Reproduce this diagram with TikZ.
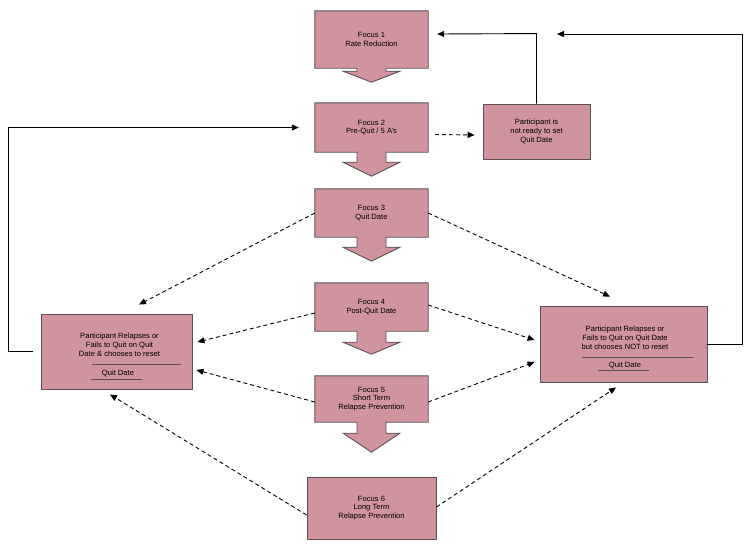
\documentclass[tikz,border=0pt]{standalone}
\usepackage{fontspec}
\setmainfont{Liberation Sans}
\usetikzlibrary{arrows.meta,backgrounds}
\definecolor{focuspink}{HTML}{D0949F}
\definecolor{edgegrey}{HTML}{5A5054}

% box with a broad arrow hanging below it: node, stem, head
\newcommand{\focusdrop}[3]{%
  \filldraw[fill=focuspink, draw=edgegrey, line width=0.9pt]
    (#1.north west) -- (#1.north east) -- (#1.south east)
    -- ([xshift=14.5pt]#1.south) -- ++(0,#2) -- ++(14,0) -- ++(-28.5,#3)
    -- ++(-28.5,-#3) -- ++(14,0) -- ++(0,-#2) -- (#1.south west) -- cycle;}

\begin{document}
\begin{tikzpicture}[x=1pt, y=-1pt,
  font=\fontsize{7.6}{8.8}\selectfont,
  box/.style={fill=focuspink, draw=edgegrey, line width=0.9pt,
              align=center, inner sep=0pt},
  focus/.style={align=center, inner sep=0pt, minimum width=113pt},
  txt/.style={align=center, inner sep=0pt},
  rule/.style={draw=edgegrey, line width=0.7pt},
  ar/.style={-{Triangle[length=7pt,width=6pt]}, line width=0.9pt},
  dar/.style={ar, dash pattern=on 4pt off 3pt}]
\useasboundingbox (0,0) rectangle (753,552);

% the focus steps
\node[focus, minimum height=57pt] (f1) at (371.5,39.5) {Focus 1\\Rate Reduction};
\node[focus, minimum height=49pt] (f2) at (371.5,127.5) {Focus 2\\Pre-Quit / 5 A's};
\node[focus, minimum height=48pt] (f3) at (371.5,213) {Focus 3\\Quit Date};
\node[focus, minimum height=48pt] (f4) at (371.5,307) {Focus 4\\Post-Quit Date};
\node[focus, minimum height=46pt] (f5) at (371.5,399) {Focus 5\\Short Term\\Relapse Prevention};
\node[box, minimum width=129pt, minimum height=62pt] (f6) at (371.5,508)
  {Focus 6\\Long Term\\Relapse Prevention};
\begin{scope}[on background layer]
\focusdrop{f1}{3}{11}
\focusdrop{f2}{10}{14}
\focusdrop{f3}{10}{14}
\focusdrop{f4}{11}{12}
\focusdrop{f5}{11}{19}
\end{scope}

% side boxes
\node[box, minimum width=107pt, minimum height=55pt] (ready) at (536.5,131.5)
  {Participant is\\not ready to set\\Quit Date};
\node[box, minimum width=151pt, minimum height=75pt] (relL) at (116.5,351.5) {};
\node[txt] (relLtxt) at (119.5,344.5)
  {Participant Relapses or\\Fails to Quit on Quit\\Date \& chooses to reset};
\node[txt] (relLdate) at (118,373) {Quit Date};
\draw[rule] (92,364) -- (181,364);
\draw[rule] (91,379) -- (142,379);
\node[box, minimum width=167pt, minimum height=76pt] (relR) at (623.5,344) {};
\node[txt] (relRtxt) at (625,338)
  {Participant Relapses or\\Fails to Quit on Quit Date\\but chooses NOT to reset};
\node[txt] (relRdate) at (625,365) {Quit Date};
\draw[rule] (582,357) -- (693,357);
\draw[rule] (598,370) -- (649,370);
\coordinate (mergeR) at (557,34);

% loops back
\draw[ar] (ready.north) -- ++(0,-70) -- ([xshift=9pt,yshift=5.5pt]f1.east);
\draw[ar] (relR.east) -- ++(35,0) -- ++(0,-310) -- (mergeR);
\draw[ar] ([xshift=-8pt]relL.west) -- ++(-24,0) |- ([xshift=-16pt]f2.west);
\draw[dar] ([xshift=7pt,yshift=-7pt]f2.east) -- ([xshift=-8pt,yshift=-3.5pt]ready.west);

% dashed moves to the side boxes
\draw[dar] (f3.west) -- ([xshift=22.5pt,yshift=9pt]relL.north);
\draw[dar] (f3.east) -- ([xshift=-13.5pt,yshift=9pt]relR.north);
\draw[dar] ([yshift=-6pt]f4.west) -- ([xshift=5pt,yshift=9.5pt]relL.east);
\draw[dar] ([yshift=2pt]f4.east) -- ([xshift=-5pt,yshift=4pt]relR.west);
\draw[dar] ([yshift=-3pt]f5.west) -- ([xshift=4pt,yshift=-18.5pt]relL.east);
\draw[dar] ([yshift=-3pt]f5.east) -- ([xshift=-5pt,yshift=-18pt]relR.west);
\draw[dar] ([yshift=-7pt]f6.west) -- ([xshift=-6.5pt,yshift=-5pt]relL.south);
\draw[dar] ([yshift=1pt]f6.east) -- ([xshift=-7.5pt,yshift=-5pt]relR.south);
\end{tikzpicture}
\end{document}
